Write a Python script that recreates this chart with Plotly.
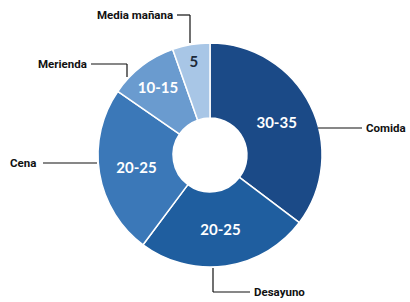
import plotly.graph_objects as go

W, H = 410, 302

# Data (clockwise from 12 o'clock)
categories = ["Comida", "Desayuno", "Cena", "Merienda", "Media mañana"]
values = [35.3, 24.9, 24.4, 10.0, 5.4]   # estimated shares from slice angles
range_labels = ["30-35", "20-25", "20-25", "10-15", "5"]

colors = ["#1b4a87", "#1f5e9f", "#3b78b8", "#6a9bcf", "#a8c6e6"]
text_colors = ["white", "white", "white", "white", "#1c2a3a"]

cx, cy, R = 210, 155, 112

def px_x(x):
    return x / W

def px_y(y):
    return 1 - y / H

fig = go.Figure(go.Pie(
    labels=categories,
    values=values,
    text=range_labels,
    texttemplate="%{text}",
    textposition="inside",
    insidetextorientation="horizontal",
    textfont=dict(family="Lato", size=15, color=text_colors, weight="bold"),
    hole=0.33,
    sort=False,
    direction="clockwise",
    rotation=0,
    marker=dict(colors=colors, line=dict(color="white", width=1.5)),
    domain=dict(x=[px_x(cx - R), px_x(cx + R)], y=[px_y(cy + R), px_y(cy - R)]),
    showlegend=False,
    hoverinfo="label+text",
))

# Leader lines (pixel coordinates converted to paper)
leaders = [
    [(177, 15), (190, 15), (190, 43)],      # Media mañana
    [(91, 64), (127, 64), (127, 77)],       # Merienda
    [(43, 163), (97, 163)],                 # Cena
    [(318, 128), (362, 128)],               # Comida
    [(213, 268), (213, 292), (250, 292)],   # Desayuno
]
shapes = []
for pts in leaders:
    for (x0, y0), (x1, y1) in zip(pts[:-1], pts[1:]):
        shapes.append(dict(type="line", xref="paper", yref="paper",
                           x0=px_x(x0), y0=px_y(y0), x1=px_x(x1), y1=px_y(y1),
                           line=dict(color="#111111", width=1.2)))

label_font = dict(family="Roboto", size=11.5, color="#111111", weight="bold")
ann = [
    dict(text="Media mañana", x=px_x(175), y=px_y(15), xanchor="right"),
    dict(text="Merienda", x=px_x(89), y=px_y(64), xanchor="right"),
    dict(text="Cena", x=px_x(8), y=px_y(163), xanchor="left"),
    dict(text="Comida", x=px_x(364), y=px_y(128), xanchor="left"),
    dict(text="Desayuno", x=px_x(252), y=px_y(292), xanchor="left"),
]
annotations = [dict(a, xref="paper", yref="paper", yanchor="middle",
                    showarrow=False, font=label_font) for a in ann]

fig.update_layout(
    width=W, height=H,
    margin=dict(l=0, r=0, t=0, b=0),
    paper_bgcolor="white",
    plot_bgcolor="white",
    shapes=shapes,
    annotations=annotations,
)

fig.write_html("out.html",
               config={"displayModeBar": False},
               post_script="document.body.style.margin='0';document.body.style.overflow='hidden';")
